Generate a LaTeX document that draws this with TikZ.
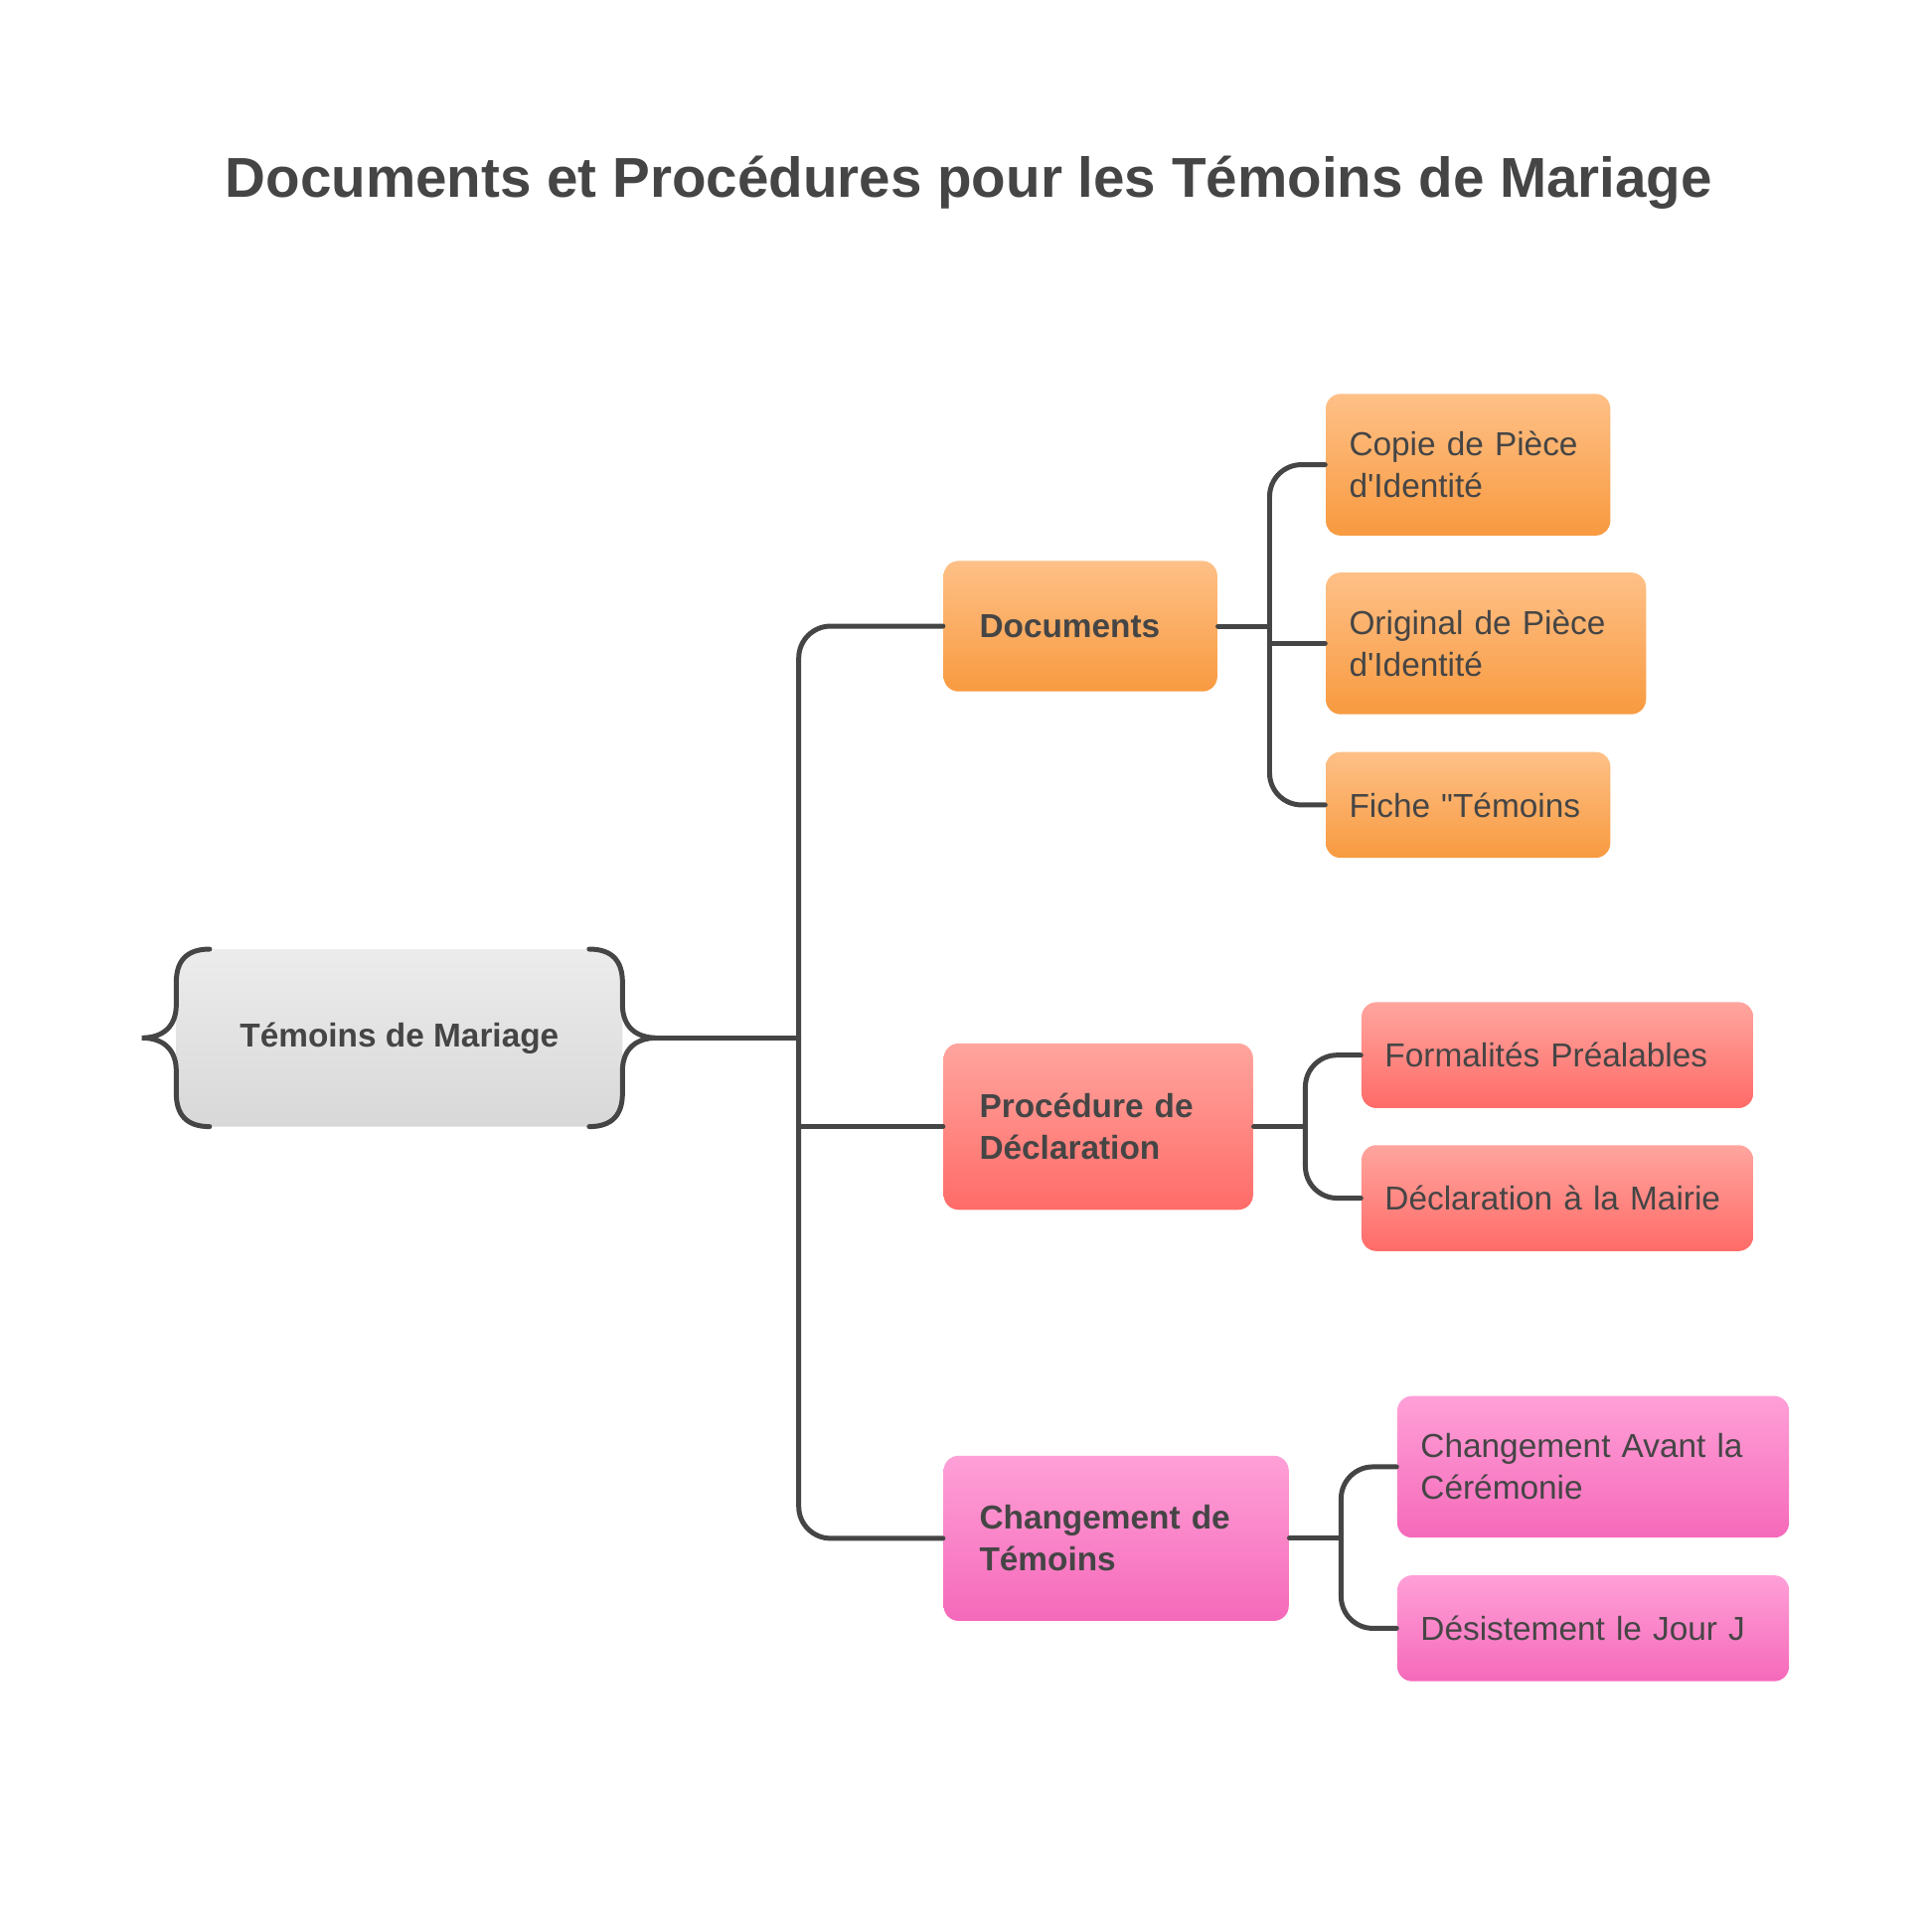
\documentclass[tikz,border=0pt]{standalone}
\usepackage{fontspec}
\setmainfont{Liberation Sans}[Ligatures=TeXOff]
\usetikzlibrary{positioning}
\definecolor{ink}{RGB}{69,69,69}
\definecolor{orgtop}{RGB}{254,192,135}
\definecolor{orgbot}{RGB}{248,154,64}
\definecolor{redtop}{RGB}{255,165,158}
\definecolor{redbot}{RGB}{255,107,104}
\definecolor{pnktop}{RGB}{255,160,215}
\definecolor{pnkbot}{RGB}{245,105,186}
\definecolor{grytop}{RGB}{236,236,236}
\definecolor{grybot}{RGB}{216,216,216}
\tikzset{
box/.style={anchor=west, rounded corners=0.15cm, align=left, text=ink,
  font=\fontsize{9.5}{12}\selectfont, inner ysep=0pt},
parent/.style={box, font=\bfseries\fontsize{9.5}{12}\selectfont, inner xsep=0.360cm},
leaf/.style={box, inner xsep=0.235cm},
orgbox/.style={top color=orgtop, bottom color=orgbot},
redbox/.style={top color=redtop, bottom color=redbot},
pnkbox/.style={top color=pnktop, bottom color=pnkbot},
conn/.style={draw=ink, line width=1.42pt, line cap=round, rounded corners=0.32cm},
}

\begin{document}
\begin{tikzpicture}[x=0.012403cm, y=-0.012403cm]
\useasboundingbox (0,0) rectangle (1567.4,1567.4);
\node[text=ink, font=\bfseries\fontsize{16.1}{19}\selectfont] (title) at (786,148)
  {Documents et Procédures pour les Témoins de Mariage};

% root
\node[top color=grytop, bottom color=grybot, minimum width=4.489cm, minimum height=1.786cm,
  rounded corners=0.33cm, text=ink, font=\bfseries\fontsize{9.5}{12}\selectfont]
  (root) at (324,842) {Témoins de Mariage};
\draw[conn, rounded corners=0pt]
  (170,770) .. controls (151,770) and (143,780) .. (143,797) -- (143,815)
  .. controls (143,833) and (132,842) .. (115,842)
  .. controls (132,842) and (143,851) .. (143,869) -- (143,887)
  .. controls (143,904) and (151,914) .. (170,914);
\draw[conn, rounded corners=0pt]
  (478,770) .. controls (497,770) and (505,780) .. (505,797) -- (505,815)
  .. controls (505,833) and (516,842) .. (533,842)
  .. controls (516,842) and (505,851) .. (505,869) -- (505,887)
  .. controls (505,904) and (497,914) .. (478,914);
\coordinate (rootR) at (533,842);
\coordinate (trunk) at (648,842);

% branches
\node[parent, orgbox, text width=2.034cm, minimum height=1.314cm] (docs) at (765,508) {Documents};
\node[parent, redbox, text width=2.394cm, minimum height=1.674cm] (proc) at (765,914) {Procédure de\\Déclaration};
\node[parent, pnkbox, text width=2.753cm, minimum height=1.662cm] (chg) at (765,1248) {Changement de\\Témoins};

\node[leaf, orgbox, text width=2.394cm, minimum height=1.426cm] (copie) at (1075,377) {Copie de Pièce\\d'Identité};
\node[leaf, orgbox, text width=2.753cm, minimum height=1.426cm] (orig) at (1075,522) {Original de Pièce\\d'Identité};
\node[leaf, orgbox, text width=2.394cm, minimum height=1.066cm] (fiche) at (1075,653) {Fiche "Témoins};

\node[leaf, redbox, text width=3.473cm, minimum height=1.066cm] (formal) at (1104,856) {Formalités Préalables};
\node[leaf, redbox, text width=3.473cm, minimum height=1.066cm] (mairie) at (1104,972) {Déclaration à la Mairie};

\node[leaf, pnkbox, text width=3.473cm, minimum height=1.426cm] (avant) at (1133,1190) {Changement Avant la\\Cérémonie};
\node[leaf, pnkbox, text width=3.473cm, minimum height=1.066cm] (desist) at (1133,1321) {Désistement le Jour J};

% connectors
\draw[conn] (rootR) -- (trunk);
\draw[conn] (docs.west) -| (trunk) |- (chg.west);
\draw[conn] (proc.west) -- (proc.west -| trunk);

\coordinate (docsJ) at (1030,508);
\draw[conn] (docs.east) -- (docsJ);
\draw[conn] (copie.west) -| (docsJ) |- (fiche.west);
\draw[conn] (orig.west) -- (orig.west -| docsJ);

\coordinate (procJ) at (1059,914);
\draw[conn] (proc.east) -- (procJ);
\draw[conn] (formal.west) -| (procJ) |- (mairie.west);

\coordinate (chgJ) at (1088,1248);
\draw[conn] (chg.east) -- (chgJ);
\draw[conn] (avant.west) -| (chgJ) |- (desist.west);
\end{tikzpicture}
\end{document}
